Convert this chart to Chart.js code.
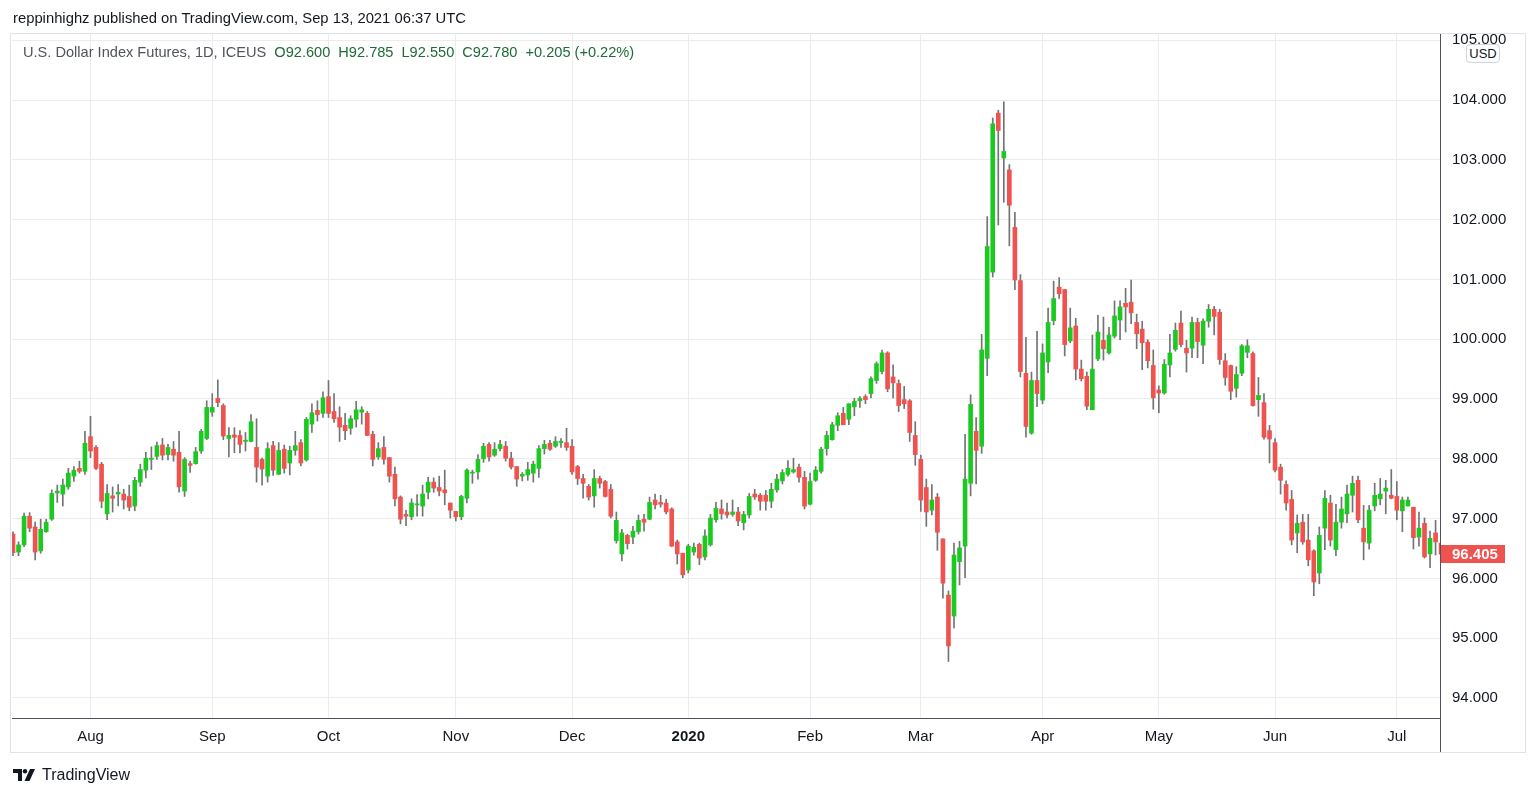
<!DOCTYPE html>
<html>
<head>
<meta charset="utf-8">
<script src="https://cdn.jsdelivr.net/npm/chart.js@4.4.0/dist/chart.umd.min.js"></script>
<style>
  html, body { margin: 0; padding: 0; background: #fff; }
  body { width: 1538px; height: 797px; position: relative; overflow: hidden; font-family: "Liberation Sans", Arial, sans-serif; }
  #chart { position: absolute; left: 0; top: 0; }
  .byline { position: absolute; left: 13px; top: 10px; font-size: 14.8px; color: #131722; white-space: nowrap; }
  .legend { position: absolute; left: 23px; top: 44px; font-size: 14.6px; color: #50535e; white-space: nowrap; }
  .legend span { color: #1e6b36; margin-left: 8px; }
  .badge { position: absolute; left: 1466px; top: 44px; width: 32px; height: 17px; border: 1px solid #d1d4dc; border-radius: 4px; background: #fff; font-size: 13px; line-height: 17px; text-align: center; color: #131722; }
  .brand { position: absolute; left: 13px; top: 766px; font-size: 16px; color: #131722; white-space: nowrap; }
  .brand svg { vertical-align: -1px; margin-right: 4px; }
</style>
</head>
<body>
<canvas id="chart" width="1538" height="797"></canvas>
<div class="byline">reppinhighz published on TradingView.com, Sep 13, 2021 06:37 UTC</div>
<div class="legend">U.S. Dollar Index Futures, 1D, ICEUS<span>O92.600</span><span>H92.785</span><span>L92.550</span><span>C92.780</span><span>+0.205 (+0.22%)</span></div>
<div class="badge">USD</div>
<div class="brand"><svg width="25" height="12" viewBox="0 0 25 12"><path d="M0 0h9v12H5V4H0z" fill="#131722"/><circle cx="12" cy="2.2" r="2.2" fill="#131722"/><path d="M17 0h5l-5.5 12h-5z" fill="#131722"/></svg>TradingView</div>
<script>
// daily candles, Jul 12 2019 -> Jul 10 2020 (index 0 = first bar on the left)
const opens = [
  96.74, 96.44, 96.56, 97.04, 96.86, 96.46, 96.78, 96.99, 97.43, 97.41,
  97.53, 97.71, 97.84, 97.79, 98.37, 98.19, 97.91, 97.08, 97.38, 97.41,
  97.41, 97.37, 97.21, 97.61, 97.81, 97.99, 98.04, 98.23, 98.07, 98.16,
  98.11, 97.46, 97.92, 97.92, 98.13, 98.34, 98.78, 99.01, 98.89, 98.34,
  98.40, 98.39, 98.29, 98.29, 98.19, 97.99, 97.71, 98.22, 97.74, 98.16,
  97.93, 98.14, 98.27, 97.98, 98.58, 98.81, 98.76, 99.04, 98.79, 98.69,
  98.56, 98.51, 98.66, 98.78, 98.76, 98.41, 98.03, 98.19, 98.02, 97.74,
  97.36, 97.07, 97.03, 97.23, 97.21, 97.44, 97.61, 97.52, 97.48, 97.26,
  97.12, 97.03, 97.34, 97.76, 97.78, 98.00, 98.24, 98.06, 98.17, 98.21,
  98.01, 97.87, 97.71, 97.73, 97.76, 97.84, 98.17, 98.26, 98.21, 98.27,
  98.27, 98.21, 97.87, 97.67, 97.54, 97.38, 97.67, 97.62, 97.49, 96.63,
  96.41, 96.72, 96.69, 96.78, 96.99, 96.99, 97.31, 97.27, 97.26, 97.16,
  96.61, 96.42, 96.14, 96.44, 96.57, 96.36, 96.56, 96.98, 97.16, 97.11,
  97.07, 97.11, 96.93, 97.06, 97.41, 97.39, 97.39, 97.29, 97.48, 97.63,
  97.74, 97.78, 97.86, 97.69, 97.24, 97.64, 97.79, 98.17, 98.32, 98.56,
  98.76, 98.66, 98.87, 98.97, 99.04, 99.09, 99.31, 99.46, 99.77, 99.37,
  99.26, 98.99, 98.97, 98.39, 97.99, 97.52, 97.14, 97.36, 96.66, 95.72,
  95.37, 96.28, 96.54, 97.59, 98.46, 98.21, 99.68, 101.12, 103.78, 103.03,
  102.83, 101.87, 100.98, 99.43, 98.43, 99.31, 98.98, 99.62, 100.31, 100.87,
  100.83, 99.97, 100.22, 99.50, 99.38, 98.82, 99.67, 99.98, 99.77, 100.05,
  100.32, 100.60, 100.62, 100.28, 100.17, 99.95, 99.56, 99.15, 99.10, 99.57,
  99.83, 100.27, 99.85, 99.85, 100.28, 99.90, 100.30, 100.50, 100.45, 99.64,
  99.56, 99.18, 99.43, 99.78, 99.76, 98.99, 98.94, 98.47, 98.27, 97.86,
  97.57, 97.32, 96.76, 96.94, 96.64, 96.46, 96.09, 96.84, 97.26, 96.48,
  96.94, 97.08, 97.39, 97.64, 96.84, 96.59, 97.21, 97.33, 97.46, 97.39,
  97.37, 97.13, 97.21, 97.19, 96.69, 96.92, 96.41, 96.76, 96.59
];
const highs = [
  96.78, 96.61, 97.09, 97.10, 96.94, 96.99, 96.99, 97.48, 97.56, 97.66,
  97.84, 97.87, 97.96, 98.46, 98.71, 98.22, 97.94, 97.57, 97.53, 97.57,
  97.49, 97.56, 97.69, 97.91, 98.11, 98.20, 98.28, 98.34, 98.24, 98.29,
  98.46, 98.02, 97.96, 98.19, 98.49, 98.97, 99.09, 99.32, 98.92, 98.52,
  98.52, 98.47, 98.44, 98.74, 98.67, 98.01, 98.27, 98.29, 98.27, 98.23,
  98.21, 98.46, 98.32, 98.69, 98.92, 98.97, 99.12, 99.31, 99.09, 98.87,
  98.76, 98.72, 98.96, 98.87, 98.79, 98.46, 98.27, 98.37, 98.02, 97.86,
  97.38, 97.14, 97.33, 97.40, 97.56, 97.69, 97.68, 97.71, 97.81, 97.26,
  97.12, 97.39, 97.83, 97.81, 98.07, 98.26, 98.27, 98.27, 98.31, 98.29,
  98.11, 97.87, 97.77, 97.94, 97.96, 98.22, 98.31, 98.31, 98.37, 98.34,
  98.51, 98.32, 97.89, 97.74, 97.57, 97.82, 97.71, 97.64, 97.57, 97.11,
  96.82, 96.74, 96.87, 97.06, 97.07, 97.36, 97.41, 97.39, 97.32, 97.18,
  96.64, 96.42, 96.57, 96.59, 96.59, 96.81, 97.07, 97.27, 97.31, 97.26,
  97.31, 97.19, 97.12, 97.42, 97.49, 97.42, 97.47, 97.59, 97.74, 97.82,
  97.97, 98.01, 97.91, 97.79, 97.76, 97.87, 98.19, 98.46, 98.61, 98.77,
  98.86, 98.92, 99.01, 99.04, 99.07, 99.37, 99.62, 99.82, 99.79, 99.57,
  99.32, 99.21, 98.99, 98.62, 98.06, 97.66, 97.57, 97.42, 96.66, 95.79,
  96.59, 96.62, 98.41, 99.07, 98.69, 100.08, 102.05, 103.70, 103.83, 103.97,
  102.92, 102.12, 101.08, 100.03, 99.45, 100.13, 99.92, 100.52, 100.97, 101.03,
  100.83, 100.52, 100.35, 99.65, 99.45, 100.07, 100.40, 100.37, 100.20, 100.64,
  100.64, 100.85, 100.99, 100.42, 100.30, 99.99, 99.82, 99.22, 99.66, 100.08,
  100.27, 100.47, 99.98, 100.37, 100.35, 100.34, 100.58, 100.55, 100.50, 99.76,
  99.57, 99.54, 99.91, 99.99, 99.79, 99.36, 99.09, 98.56, 98.34, 97.91,
  97.63, 97.47, 97.06, 97.07, 97.07, 96.48, 96.86, 97.47, 97.39, 97.24,
  97.36, 97.56, 97.71, 97.71, 97.22, 97.22, 97.59, 97.67, 97.64, 97.82,
  97.62, 97.36, 97.36, 97.19, 97.11, 97.01, 96.79, 96.97, 96.70
];
const lows = [
  96.38, 96.38, 96.53, 96.78, 96.31, 96.42, 96.77, 96.97, 97.27, 97.21,
  97.49, 97.62, 97.76, 97.74, 98.02, 97.82, 97.18, 96.98, 97.11, 97.21,
  97.16, 97.13, 97.13, 97.54, 97.68, 97.82, 97.99, 97.98, 97.98, 97.96,
  97.44, 97.37, 97.77, 97.91, 98.09, 98.32, 98.71, 98.87, 98.32, 98.03,
  98.10, 98.10, 98.13, 98.28, 97.61, 97.56, 97.61, 97.72, 97.74, 97.76,
  97.73, 98.06, 97.88, 97.96, 98.44, 98.63, 98.69, 98.69, 98.61, 98.29,
  98.32, 98.41, 98.53, 98.58, 98.39, 97.88, 97.99, 97.91, 97.61, 97.21,
  96.91, 96.88, 96.98, 97.04, 97.04, 97.33, 97.44, 97.38, 97.23, 97.01,
  96.96, 96.98, 97.26, 97.59, 97.66, 97.94, 97.96, 98.04, 98.13, 97.96,
  97.83, 97.54, 97.63, 97.64, 97.61, 97.69, 98.08, 98.14, 98.19, 98.19,
  98.14, 97.74, 97.57, 97.34, 97.31, 97.19, 97.51, 97.36, 97.01, 96.59,
  96.29, 96.49, 96.58, 96.74, 96.79, 96.98, 97.16, 97.19, 97.08, 96.53,
  96.24, 96.01, 96.09, 96.39, 96.23, 96.31, 96.54, 96.94, 96.99, 97.01,
  97.04, 96.88, 96.81, 97.01, 97.32, 97.14, 97.14, 97.18, 97.44, 97.58,
  97.71, 97.76, 97.61, 97.16, 97.23, 97.62, 97.76, 98.06, 98.31, 98.47,
  98.57, 98.57, 98.72, 98.86, 98.92, 99.02, 99.26, 99.42, 99.12, 99.02,
  98.79, 98.84, 98.29, 97.89, 97.12, 96.87, 97.06, 96.47, 95.67, 94.61,
  95.17, 95.89, 96.01, 97.38, 97.58, 98.09, 99.39, 101.04, 101.91, 102.29,
  101.56, 100.83, 99.37, 98.36, 98.41, 98.87, 98.92, 99.44, 100.24, 100.68,
  99.72, 99.94, 99.32, 99.30, 98.82, 98.82, 99.64, 99.65, 99.75, 100.02,
  99.99, 100.12, 100.26, 99.84, 99.49, 99.52, 98.83, 98.77, 99.08, 99.37,
  99.80, 99.87, 99.45, 99.69, 99.69, 99.59, 100.20, 100.07, 99.58, 99.23,
  98.99, 99.03, 99.39, 99.69, 98.88, 98.71, 98.33, 97.93, 97.78, 97.41,
  97.14, 96.56, 96.43, 96.57, 96.21, 95.71, 95.91, 96.48, 96.54, 96.38,
  96.84, 96.93, 97.11, 96.93, 96.31, 96.49, 97.13, 97.23, 97.08, 97.33,
  96.98, 96.78, 97.21, 96.49, 96.54, 96.34, 96.18, 96.39, 96.35
];
const closes = [
  96.43, 96.56, 97.04, 96.84, 96.44, 96.82, 96.94, 97.42, 97.46, 97.56,
  97.76, 97.81, 97.79, 98.26, 98.13, 97.84, 97.29, 97.42, 97.34, 97.44,
  97.31, 97.19, 97.64, 97.82, 98.01, 98.01, 98.22, 98.06, 98.19, 98.06,
  97.53, 97.99, 97.89, 98.12, 98.46, 98.86, 98.86, 98.94, 98.38, 98.39,
  98.36, 98.24, 98.31, 98.62, 97.86, 97.83, 98.17, 97.81, 98.14, 97.84,
  98.14, 98.22, 97.93, 98.66, 98.77, 98.74, 99.02, 98.76, 98.67, 98.53,
  98.47, 98.67, 98.82, 98.82, 98.39, 97.99, 98.17, 97.99, 97.71, 97.33,
  96.99, 97.04, 97.26, 97.24, 97.41, 97.61, 97.51, 97.46, 97.43, 97.14,
  97.03, 97.37, 97.81, 97.77, 97.99, 98.21, 98.03, 98.16, 98.24, 98.01,
  97.86, 97.66, 97.74, 97.82, 97.91, 98.17, 98.24, 98.16, 98.29, 98.29,
  98.19, 97.78, 97.67, 97.59, 97.36, 97.67, 97.59, 97.37, 97.04, 96.97,
  96.76, 96.58, 96.79, 96.97, 96.94, 97.27, 97.23, 97.24, 97.11, 96.54,
  96.41, 96.06, 96.54, 96.52, 96.34, 96.71, 97.01, 97.17, 97.08, 97.06,
  97.11, 96.96, 97.07, 97.37, 97.36, 97.29, 97.29, 97.49, 97.66, 97.77,
  97.84, 97.82, 97.69, 97.21, 97.62, 97.81, 98.16, 98.39, 98.57, 98.72,
  98.57, 98.92, 98.96, 99.01, 98.99, 99.34, 99.59, 99.77, 99.17, 99.27,
  98.89, 98.92, 98.44, 98.07, 97.31, 97.11, 97.31, 96.77, 95.92, 94.87,
  96.39, 96.51, 97.66, 98.91, 98.14, 99.82, 101.55, 103.60, 103.49, 103.14,
  102.24, 100.99, 99.46, 98.54, 99.31, 99.09, 99.77, 100.28, 100.68, 100.76,
  99.91, 100.19, 99.50, 99.34, 98.88, 99.50, 100.12, 99.84, 100.07, 100.39,
  100.54, 100.54, 100.44, 100.09, 99.94, 99.64, 99.02, 99.10, 99.58, 99.77,
  100.15, 99.91, 99.77, 100.28, 99.96, 100.30, 100.50, 100.38, 99.66, 99.36,
  99.13, 99.41, 99.89, 99.89, 98.89, 99.06, 98.36, 98.33, 97.81, 97.64,
  97.26, 96.64, 96.92, 96.61, 96.31, 95.94, 96.72, 97.34, 96.64, 96.94,
  97.16, 97.41, 97.59, 96.98, 96.61, 97.14, 97.39, 97.41, 97.51, 97.34,
  97.14, 97.31, 97.31, 96.68, 96.84, 96.36, 96.67, 96.61, 96.405
];

// month labels on the time axis (bar index of the first session of each month)
const monthTickIndex = [14, 36, 57, 80, 101, 122, 144, 164, 186, 207, 228, 250];
const monthTickLabels = ['Aug', 'Sep', 'Oct', 'Nov', 'Dec', '2020', 'Feb', 'Mar', 'Apr', 'May', 'Jun', 'Jul'];
const priceTicks = [94, 95, 96, 97, 98, 99, 100, 101, 102, 103, 104, 105];

const upColor = '#1ec823';
const downColor = '#ef5350';
const wickColor = '#737375';
const gridColor = '#ececee';
const axisLineColor = '#50535e';
const textColor = '#131722';
const fontFamily = '"Liberation Sans", Arial, sans-serif';

const bodies = opens.map((o, i) => ({ x: i, y: [o, closes[i]] }));
const wicks = lows.map((l, i) => ({ x: i, y: [l, highs[i]] }));
const bodyColors = opens.map((o, i) => closes[i] >= o ? upColor : downColor);

// frame lines, clipped top label and last price tag
const tvDecor = {
    id: 'tvDecor',
    afterDraw(chart) {
        const ctx = chart.ctx;
        const area = chart.chartArea;
        const yScale = chart.scales.y;

        ctx.save();
        // hide the part of the axis labels above the pane
        ctx.fillStyle = '#fff';
        ctx.fillRect(area.right + 1, 0, 100, area.top);

        // outer light frame
        ctx.strokeStyle = '#e0e3eb';
        ctx.lineWidth = 1;
        ctx.strokeRect(10.5, area.top - 0.5, 1515, 753 - area.top);

        // axis lines
        ctx.strokeStyle = axisLineColor;
        ctx.beginPath();
        ctx.moveTo(area.right + 0.5, area.top);
        ctx.lineTo(area.right + 0.5, 752);
        ctx.moveTo(area.left, area.bottom + 0.5);
        ctx.lineTo(area.right, area.bottom + 0.5);
        ctx.stroke();

        // last price tag
        const last = closes[closes.length - 1];
        const py = Math.round(yScale.getPixelForValue(last));
        ctx.fillStyle = downColor;
        ctx.fillRect(area.right + 1, py - 9, 64, 18);
        ctx.fillStyle = '#fff';
        ctx.font = 'bold 15px ' + fontFamily;
        ctx.textBaseline = 'middle';
        ctx.textAlign = 'left';
        ctx.fillText(last.toFixed(3), area.right + 12, py + 1);
        ctx.restore();
    }
};

const ctx = document.getElementById('chart').getContext('2d');

new Chart(ctx, {
    type: 'bar',
    data: {
        datasets: [
            {
                label: 'body',
                data: bodies,
                backgroundColor: bodyColors,
                barThickness: 4,
                minBarLength: 1,
                grouped: false,
                borderWidth: 0,
                order: 0
            },
            {
                label: 'wick',
                data: wicks,
                backgroundColor: wickColor,
                barThickness: 1,
                grouped: false,
                borderWidth: 0,
                order: 1
            }
        ]
    },
    options: {
        responsive: false,
        animation: false,
        events: [],
        layout: {
            padding: { left: 12, top: 34, right: 13, bottom: 45 }
        },
        plugins: {
            legend: { display: false },
            tooltip: { enabled: false }
        },
        scales: {
            x: {
                type: 'linear',
                min: -0.18,
                max: 257.8,
                offset: false,
                grid: { color: gridColor, drawTicks: false, offset: false },
                border: { display: false },
                afterBuildTicks(scale) {
                    scale.ticks = monthTickIndex.map(v => ({ value: v }));
                },
                afterFit(scale) {
                    scale.height = 34;
                },
                ticks: {
                    autoSkip: false,
                    maxRotation: 0,
                    padding: 10,
                    color: textColor,
                    font(context) {
                        const i = monthTickIndex.indexOf(context.tick && context.tick.value);
                        return {
                            family: fontFamily,
                            size: 15,
                            weight: monthTickLabels[i] === '2020' ? 'bold' : 'normal'
                        };
                    },
                    callback(value) {
                        const i = monthTickIndex.indexOf(value);
                        return i >= 0 ? monthTickLabels[i] : '';
                    }
                }
            },
            y: {
                position: 'right',
                min: 93.665,
                max: 105.104,
                grid: { color: gridColor, drawTicks: false },
                border: { display: false },
                afterBuildTicks(scale) {
                    scale.ticks = priceTicks.map(v => ({ value: v }));
                },
                afterFit(scale) {
                    scale.width = 85;
                },
                ticks: {
                    padding: 12,
                    color: textColor,
                    font: { family: fontFamily, size: 15 },
                    callback(value) {
                        return value.toFixed(3);
                    }
                }
            }
        }
    },
    plugins: [tvDecor]
});
</script>
</body>
</html>
